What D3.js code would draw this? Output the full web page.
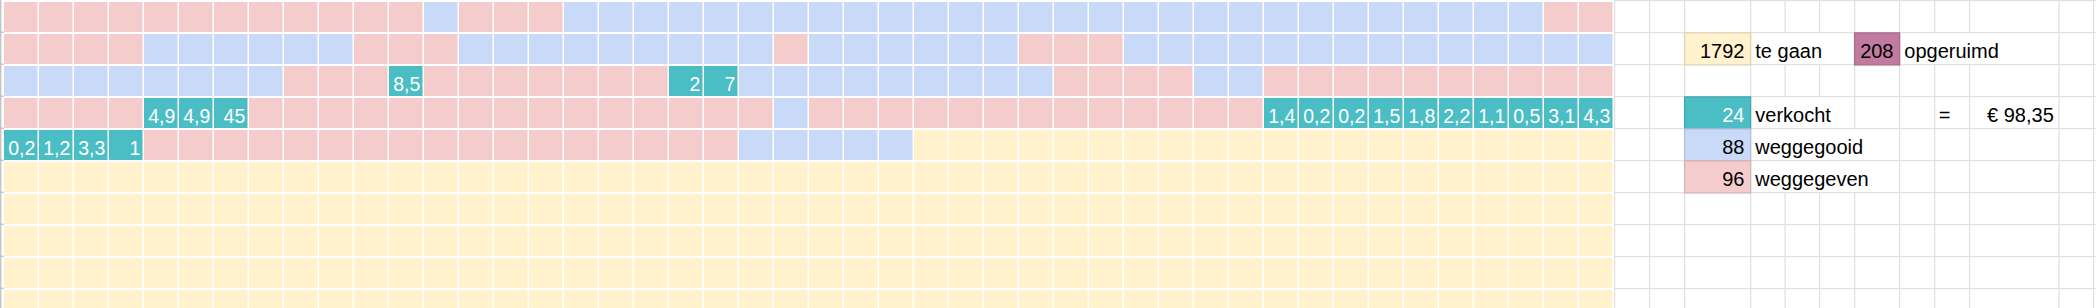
<!DOCTYPE html>
<html>
<head>
<meta charset="utf-8">
<script src="https://cdn.jsdelivr.net/npm/d3@7"></script>
<style>
    html, body { margin: 0; padding: 0; background: #fff; }
    svg { display: block; font-family: "Liberation Sans", Arial, sans-serif; }
</style>
</head>
<body>
<div id="sheetDiv"></div>
<script>
// status of the tiles per row, as [status, count] runs; whatever is not listed is still "te gaan"
const rowRuns = [
    [["gegeven", 12], ["gegooid", 1], ["gegeven", 3], ["gegooid", 28], ["gegeven", 2]],
    [["gegeven", 4], ["gegooid", 6], ["gegeven", 3], ["gegooid", 9], ["gegeven", 1], ["gegooid", 6], ["gegeven", 3], ["gegooid", 14]],
    [["gegooid", 8], ["gegeven", 3], ["verkocht", 1], ["gegeven", 7], ["verkocht", 2], ["gegooid", 9], ["gegeven", 4], ["gegooid", 2], ["gegeven", 10]],
    [["gegeven", 4], ["verkocht", 3], ["gegeven", 15], ["gegooid", 1], ["gegeven", 13], ["verkocht", 10]],
    [["verkocht", 4], ["gegeven", 17], ["gegooid", 5]]
];

// prices of the sold tiles, in reading order
const soldPrices = [8.5, 2, 7, 4.9, 4.9, 45, 1.4, 0.2, 0.2, 1.5, 1.8, 2.2, 1.1, 0.5, 3.1, 4.3, 0.2, 1.2, 3.3, 1];

const tilesPerRow = 46;

// summary block on the right
const legendKeys = ["te gaan", "opgeruimd", "verkocht", "gegooid", "gegeven"];
const legendCounts = [1792, 208, 24, 88, 96];
const legendLabels = ["te gaan", "opgeruimd", "verkocht", "weggegooid", "weggegeven"];
const revenue = 98.35;

const nl = d3.formatLocale({decimal: ",", thousands: ".", grouping: [3], currency: ["€ ", ""]});

/**
 * Spreadsheet-like tile grid with a small summary next to it
 */
class TileSheet {
    constructor(width, height) {
        this.width = width;
        this.height = height;
        this.rowH = 32;
        this.colW = 35;
        this.left = 4;
        this.tileFont = 19.5;
        this.legendFont = 20;
        this.lineColor = '#e1e1e1';
        this.visibleRows = Math.ceil(height / this.rowH);

        this.x = d3.scaleLinear()
            .domain([0, tilesPerRow])
            .range([this.left, this.left + tilesPerRow * this.colW]);
        this.y = d3.scaleLinear()
            .domain([0, this.visibleRows])
            .range([0, this.visibleRows * this.rowH]);
        this.color = d3.scaleOrdinal()
            .domain(["te gaan", "opgeruimd", "verkocht", "gegooid", "gegeven"])
            .range(['#fff2cc', '#c27ba0', '#4bbdc5', '#c9daf8', '#f4cccc']);

        this.svg = this.setupSVG();
        this.lines = this.svg.append('g');
        this.boxes = this.svg.append('g');
        this.texts = this.svg.append('g');
    }

    setupSVG(){
        return d3.select('#sheetDiv')
            .append('svg')
            .attr('width', this.width)
            .attr('height', this.height);
    }

    buildTiles(){
        let tiles = [];
        let k = 0;
        for (let r = 0; r < this.visibleRows; r++) {
            let statuses = [];
            (rowRuns[r] || []).forEach(([status, n]) => {
                for (let i = 0; i < n; i++) statuses.push(status);
            });
            while (statuses.length < tilesPerRow) statuses.push("te gaan");
            statuses.forEach((status, c) => {
                let t = {row: r, col: c, status: status};
                if (status === "verkocht") t.price = soldPrices[k++];
                tiles.push(t);
            });
        }
        return tiles;
    }

    drawGrid(){
        const tiles = this.buildTiles();
        const fmt = nl.format('.2~f');

        // row header edge on the far left
        this.lines.append('line')
            .attr('x1', 0.7).attr('x2', 0.7)
            .attr('y1', 0).attr('y2', this.height)
            .attr('stroke', '#c4c4c4').attr('stroke-width', 1.4);
        this.lines.selectAll('.tick')
            .data(d3.range(1, this.visibleRows)).enter()
            .append('line')
            .attr('x1', 0).attr('x2', this.left)
            .attr('y1', d => this.y(d) + 0.3).attr('y2', d => this.y(d) + 0.3)
            .attr('stroke', '#c4c4c4').attr('stroke-width', 1.3);

        this.boxes.selectAll('rect.tile')
            .data(tiles).enter()
            .append('rect')
            .attr('class', 'tile')
            .attr('x', d => this.x(d.col))
            .attr('y', d => this.y(d.row) + 2)
            .attr('width', this.colW - 1.5)
            .attr('height', this.rowH - 2)
            .attr('fill', d => this.color(d.status));

        this.texts.selectAll('text.price')
            .data(tiles.filter(d => d.price !== undefined)).enter()
            .append('text')
            .attr('class', 'price')
            .attr('x', d => this.x(d.col) + 31.3)
            .attr('y', d => this.y(d.row) + 26.7)
            .attr('text-anchor', 'end')
            .attr('font-size', this.tileFont)
            .attr('fill', '#ffffff')
            .text(d => fmt(d.price));
    }

    drawLegend(){
        // column edges of the plain sheet right of the tiles
        const edges = [this.x(tilesPerRow), 1649, 1684, 1750, 1784.5, 1819, 1854, 1899, 1934, 1969, 2058.3, 2093];
        const boxRow = [1, 1, 3, 4, 5];
        const boxCol = [2, 6, 2, 2, 2];

        const items = legendKeys.map((key, i) => ({
            key: key, count: legendCounts[i], label: legendLabels[i],
            row: boxRow[i], x0: edges[boxCol[i]], x1: edges[boxCol[i] + 1]
        }));

        this.boxes.selectAll('rect.box')
            .data(items).enter()
            .append('rect')
            .attr('class', 'box')
            .attr('x', d => d.x0 + 0.6)
            .attr('y', d => this.y(d.row) + 0.9)
            .attr('width', d => d.x1 - d.x0)
            .attr('height', this.rowH)
            .attr('fill', d => this.color(d.key))
            .attr('stroke', d => d3.color(this.color(d.key)).darker(0.35))
            .attr('stroke-width', 1.3);

        this.texts.selectAll('text.count')
            .data(items).enter()
            .append('text')
            .attr('class', 'count')
            .attr('x', d => d.x1 - 5.5)
            .attr('y', d => this.y(d.row) + 26.3)
            .attr('text-anchor', 'end')
            .attr('font-size', this.legendFont)
            .attr('fill', d => d.key === "verkocht" ? '#ffffff' : '#000000')
            .text(d => nl.format('d')(d.count));

        let spans = [];
        this.texts.selectAll('text.label')
            .data(items).enter()
            .append('text')
            .attr('class', 'label')
            .attr('x', d => d.x1 + 5.3)
            .attr('y', d => this.y(d.row) + 26.3)
            .attr('font-size', this.legendFont)
            .attr('fill', '#000000')
            .text(d => d.label)
            .each(function(d) {
                spans.push({row: d.row, from: d.x1, to: d.x1 + 5.3 + this.getComputedTextLength()});
            });

        this.texts.append('text')
            .attr('x', edges[8] + 4.8)
            .attr('y', this.y(3) + 26.3)
            .attr('font-size', this.legendFont)
            .text('=');
        this.texts.append('text')
            .attr('x', edges[10] - 4.5)
            .attr('y', this.y(3) + 26.3)
            .attr('text-anchor', 'end')
            .attr('font-size', this.legendFont)
            .text(nl.format('$.2f')(revenue));

        // horizontal sheet lines
        this.lines.selectAll('.hline')
            .data(d3.range(0, this.visibleRows)).enter()
            .append('line')
            .attr('x1', edges[0]).attr('x2', this.width)
            .attr('y1', d => this.y(d) + 0.6).attr('y2', d => this.y(d) + 0.6)
            .attr('stroke', this.lineColor).attr('stroke-width', 1.3);

        // vertical sheet lines, cut where a label runs over into the next cell
        let segs = [];
        edges.forEach(ex => {
            for (let r = 0; r < this.visibleRows; r++) {
                let hidden = spans.some(s => s.row === r && ex > s.from + 1 && ex < s.to + 4);
                if (!hidden) segs.push({x: ex, row: r});
            }
        });
        this.lines.selectAll('.vline')
            .data(segs).enter()
            .append('line')
            .attr('x1', d => d.x + 0.6).attr('x2', d => d.x + 0.6)
            .attr('y1', d => this.y(d.row)).attr('y2', d => this.y(d.row + 1) + 1)
            .attr('stroke', this.lineColor).attr('stroke-width', 1.3);
    }
}

const sheet = new TileSheet(2096, 308);
sheet.drawGrid();
sheet.drawLegend();
</script>
</body>
</html>
